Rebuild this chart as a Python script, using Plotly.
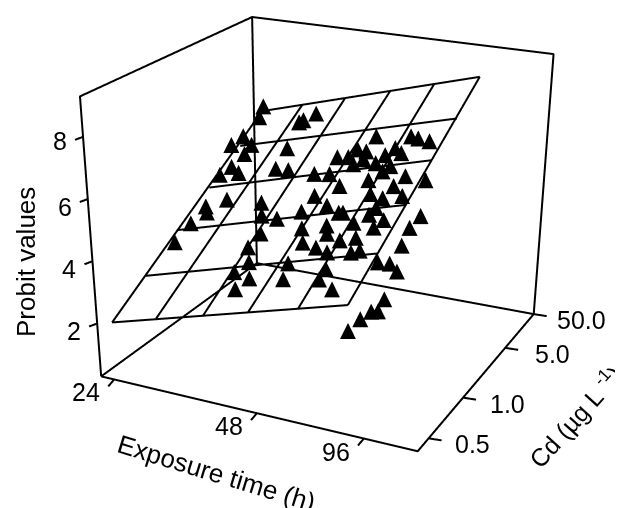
import plotly.graph_objects as go

# Observations: position along the exposure axis, position along the Cd axis, probit value
exposure_pos = [.29,.36,.27,.12,.60,.57,.46,.72,.30,1.54,1.50,1.86,.45,.57,.85,1.72,1.92,2.33,2.17,.35,.26,2.08,2.33,2.13,2.58,2.41,3.28,3.40,1.66,1.46,1.39,3.44,4.27,4.47,4.78,2.83,3.09,3.19,3.43,3.48,3.32,3.83,3.94,4.07,4.29,4.23,4.12,2.54,2.90,3.92,4.74,5.28,3.32,4.61,4.18,4.53,4.97,2.88,3.32,4.52,2.81,3.71,3.81,4.46,4.89,5.71,4.22,3.62,4.77,5.63,3.07,3.75,3.31,3.70,4.16,4.50,4.04,4.61,4.79,5.71,5.40,5.70,5.99,4.27,4.26,4.72,5.73,5.59,5.44,5.20,4.93]
cd_pos = [4.89,4.63,4.21,4.03,3.97,3.77,3.49,3.32,3.33,3.32,3.79,3.25,2.59,2.44,2.70,2.52,2.21,2.09,1.77,2.22,1.80,1.47,1.10,.90,.71,.48,.96,.59,4.56,4.43,4.39,3.83,3.73,3.66,3.56,3.43,3.40,3.57,3.49,3.31,3.21,3.18,3.34,3.49,3.35,3.06,2.96,3.08,3.04,2.78,2.77,2.62,2.72,2.56,2.43,2.30,2.29,2.54,2.27,2.08,2.19,2.06,2.05,1.93,1.76,1.75,1.77,1.78,1.60,1.49,1.78,1.58,1.43,1.27,1.38,1.40,1.12,1.05,1.07,1.08,.73,.67,.46,.71,.48,.20,.43,.43,.43,.43,.43]
probit = [5.80,5.66,5.32,5.12,5.32,5.16,4.91,4.92,4.72,5.32,5.63,5.43,4.28,4.23,4.55,4.86,4.73,4.85,4.55,3.97,3.63,4.29,4.16,3.92,4.00,3.76,4.53,4.32,6.25,6.06,6.00,6.61,6.95,7.00,7.08,6.03,6.14,6.30,6.37,6.26,6.12,6.34,6.52,6.68,6.69,6.46,6.33,5.65,5.79,6.11,6.51,6.66,5.77,6.30,6.00,6.07,6.29,5.44,5.46,5.91,5.16,5.51,5.55,5.78,5.87,6.27,5.56,5.27,5.70,6.05,5.00,5.19,4.87,4.95,5.25,5.43,5.01,5.24,5.35,5.80,5.41,5.51,5.50,4.84,4.67,4.70,4.51,4.06,4.00,3.67,3.19]

# Fitted response plane: edge nodes as (exposure, Cd, probit)
plane_bottom = [(0,0,2.25),(.987,-.027,2.714),(2.06,-.088,3.198),(3.079,-.134,3.664),(4.215,-.188,4.183),(5.344,-.234,4.703)]
plane_top = [(.342,4.767,5.746),(1.204,4.8,6.191),(2.121,4.847,6.673),(3.085,4.89,7.175),(4.026,4.935,7.668),(4.999,4.999,8.189)]
plane_left = [(0,0,2.25),(.092,1.05,3.028),(.128,2.084,3.768),(.256,3.039,4.497),(.353,3.975,5.199),(.342,4.767,5.746)]
plane_right = [(5.344,-.234,4.703),(5.264,.95,5.49),(5.207,2.063,6.24),(5.139,3.087,6.922),(5.092,4.04,7.565),(4.999,4.999,8.189)]

# Box corners as drawn
A = (-.281, .064, .3)
B = (6.897, -.255, .3)
C = (6.0, 5.303, .3)
D = (.034, 5.08, .3)
A_top = (-.911, .325, 9.3)
D_top = (.418, 4.293, 9.3)
C_top = (6.52, 5.17, 9.3)

x_tick_frac = [.041, .492, .83]
x_tick_labels = ["24", "48", "96"]
y_tick_frac = [.094, .391, .754, 1.0]
y_tick_labels = ["0.5", "1.0", "5.0", "50.0"]
z_tick_vals = [2, 4, 6, 8]
z_tick_labels = ["2", "4", "6", "8"]

FONT = "Liberation Sans, Arial, Helvetica, sans-serif"
LW = 4


def lerp(p, q, f):
    return tuple(a + (b - a) * f for a, b in zip(p, q))


def polyline(segments):
    xs, ys, zs = [], [], []
    for seg in segments:
        for p in seg:
            xs.append(p[0]); ys.append(p[1]); zs.append(p[2])
        xs.append(None); ys.append(None); zs.append(None)
    return go.Scatter3d(x=xs, y=ys, z=zs, mode="lines", line=dict(color="black", width=LW), hoverinfo="skip")


def offset(p, d):
    return tuple(a + b for a, b in zip(p, d))


fig = go.Figure()
segments = [[plane_left[i], plane_right[i]] for i in range(6)] + [[plane_bottom[i], plane_top[i]] for i in range(6)]
fig.add_trace(polyline(segments))
fig.add_trace(polyline([[A, B, C, D, A], [A, A_top, D_top, C_top, C], [D, D_top]]))

annotations = []
tick_segments = []
for f, t in zip(x_tick_frac, x_tick_labels):
    p = lerp(A, B, f)
    tick_segments.append([p, offset(p, (.045, -.282, 0))])
    annotations.append(dict(x=p[0], y=p[1], z=p[2], text=t, xshift=-28, yshift=-13))
for f, t, sx in zip(y_tick_frac, y_tick_labels, [44, 44, 47, 48]):
    p = lerp(B, C, f)
    tick_segments.append([p, offset(p, (.271, .024, 0))])
    annotations.append(dict(x=p[0], y=p[1], z=p[2], text=t, xshift=sx, yshift=-6))
for v, t, sy in zip(z_tick_vals, z_tick_labels, [-8, -8, -8, -4]):
    p = lerp(A, A_top, (v - A[2]) / (A_top[2] - A[2]))
    tick_segments.append([p, offset(p, (-.077, -.16, 0))])
    annotations.append(dict(x=p[0], y=p[1], z=p[2], text=t, xshift=-23, yshift=sy))
fig.add_trace(polyline(tick_segments))

fig.add_trace(go.Scatter3d(x=exposure_pos, y=cd_pos, z=probit, mode="text", text=["▲"] * len(probit),
                           textfont=dict(family="DejaVu Sans", size=21, color="black"),
                           textposition="middle center", hoverinfo="skip"))

for a in annotations:
    a.update(showarrow=False, xanchor="center", yanchor="middle", font=dict(family=FONT, size=25, color="black"))


def hidden(rng):
    return dict(range=rng, autorange=False, visible=False, showgrid=False, zeroline=False,
                showbackground=False, showspikes=False)


fig.update_layout(
    width=623, height=508, margin=dict(l=0, r=0, t=0, b=0), showlegend=False, paper_bgcolor="white",
    scene=dict(
        domain=dict(x=[0, 1], y=[0, 1]),
        xaxis=hidden([-1.459, 8.13]), yaxis=hidden([-1.17, 6.28]), zaxis=hidden([-0.6, 10.2]),
        aspectmode="manual", aspectratio=dict(x=1.916, y=1.842, z=1.39),
        camera=dict(projection=dict(type="orthographic"),
                    center=dict(x=-0.0244, y=-0.091, z=-0.1553),
                    eye=dict(x=0.9981, y=-2.126, z=0.8765),
                    up=dict(x=0, y=0, z=1)),
        annotations=annotations,
    ),
    annotations=[
        dict(text="Probit values", x=18/623, y=1-254/508, xref="paper", yref="paper", showarrow=False, textangle=-90,
             xanchor="center", yanchor="middle", font=dict(family=FONT, size=26, color="black")),
        dict(text="Exposure time (h)", x=208/623, y=1-465/508, xref="paper", yref="paper", showarrow=False, textangle=17,
             xanchor="center", yanchor="middle", font=dict(family=FONT, size=26, color="black")),
        dict(text="Cd (µg L <sup>-1</sup>)", x=567/623, y=1-408/508, xref="paper", yref="paper", showarrow=False, textangle=-48,
             xanchor="center", yanchor="middle", font=dict(family=FONT, size=25, color="black")),
    ],
)
fig.write_html("out.html", config=dict(displayModeBar=False))
